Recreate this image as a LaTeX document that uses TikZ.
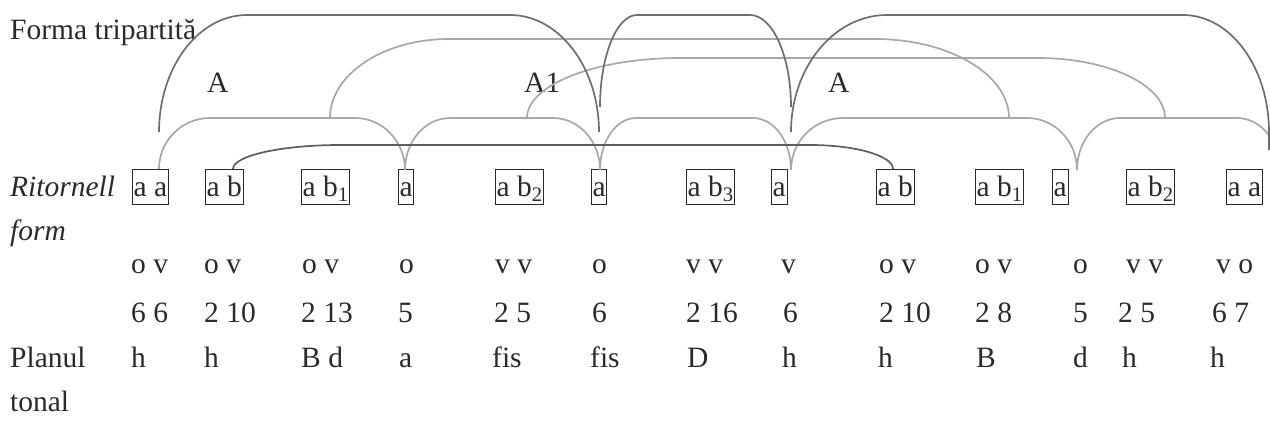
\documentclass[tikz,border=0pt]{standalone}
\usepackage{fontspec}
\setmainfont{Liberation Serif}
\definecolor{darkarc}{HTML}{6E6E6E}
\definecolor{lightarc}{HTML}{A8A8A8}
\definecolor{longarc}{HTML}{5E5E5E}
\definecolor{txt}{HTML}{2A2A2A}
\begin{document}
\begin{tikzpicture}[x=1pt,y=-1pt,
  every node/.style={font=\fontsize{29.5}{35}\selectfont, text=txt, inner sep=0pt, anchor=base west},
  seg/.style={draw=txt, line width=1pt, inner xsep=1.2pt, inner ysep=0pt, text height=27pt, text depth=8pt},
  darkline/.style={draw=darkarc, line width=1.7pt},
  lightline/.style={draw=lightarc, line width=1.7pt},
  longline/.style={draw=longarc, line width=1.7pt}]
\useasboundingbox (0,0) rectangle (1270,434);

% titles and labels
\node (title) at (10,39.5) {Forma tripartită};
\node (lA) at (207,92) {A};
\node (lA1) at (524,92) {A1};
\node (lA2) at (828,92) {A};

% Ritornell row
\node (rit) at (10,196) {\itshape Ritornell};
\node (form) at (10,240) {\itshape form};
\node[seg] (s1) at (132,196) {a a};
\node[seg] (s2) at (205,196) {a b};
\node[seg] (s3) at (301,196) {a b\textsubscript{1}};
\node[seg] (s4) at (398,196) {a};
\node[seg] (s5) at (495,196) {a b\textsubscript{2}};
\node[seg] (s6) at (591,196) {a};
\node[seg] (s7) at (686,196) {a b\textsubscript{3}};
\node[seg] (s8) at (771,196) {a};
\node[seg] (s9) at (876,196) {a b};
\node[seg] (s10) at (975,196) {a b\textsubscript{1}};
\node[seg] (s11) at (1052,196) {a};
\node[seg] (s12) at (1126,196) {a b\textsubscript{2}};
\node[seg] (s13) at (1226,196) {a a};

% o v row
\node (o1) at (131,273.5) {o v};
\node (o2) at (204,273.5) {o v};
\node (o3) at (302,273.5) {o v};
\node (o4) at (399,273.5) {o};
\node (o5) at (495,273.5) {v v};
\node (o6) at (592,273.5) {o};
\node (o7) at (686,273.5) {v v};
\node (o8) at (781,273.5) {v};
\node (o9) at (879,273.5) {o v};
\node (o10) at (975,273.5) {o v};
\node (o11) at (1073,273.5) {o};
\node (o12) at (1126,273.5) {v v};
\node (o13) at (1216,273.5) {v o};

% numbers row
\node (n1) at (131,322) {6 6};
\node (n2) at (204,322) {2 10};
\node (n3) at (301,322) {2 13};
\node (n4) at (398,322) {5};
\node (n5) at (494,322) {2 5};
\node (n6) at (592,322) {6};
\node (n7) at (686,322) {2 16};
\node (n8) at (783,322) {6};
\node (n9) at (879,322) {2 10};
\node (n10) at (975,322) {2 8};
\node (n11) at (1073,322) {5};
\node (n12) at (1118,322) {2 5};
\node (n13) at (1212,322) {6 7};

% tonal plan row
\node (pl) at (10,367) {Planul};
\node (tn) at (10,411) {tonal};
\node (t1) at (131,367) {h};
\node (t2) at (204,367) {h};
\node (t3) at (301,367) {B d};
\node (t4) at (399,367) {a};
\node (t5) at (492,367) {fis};
\node (t6) at (590,367) {fis};
\node (t7) at (687,367) {D};
\node (t8) at (782,367) {h};
\node (t9) at (878,367) {h};
\node (t10) at (976,367) {B};
\node (t11) at (1073,367) {d};
\node (t12) at (1122,367) {h};
\node (t13) at (1210,367) {h};

% connection points
\coordinate (c1) at (159,169);
\coordinate (c4) at (405,170);
\coordinate (c6) at (600,170);
\coordinate (c8) at (791,170);
\coordinate (c11) at (1077,170);
\coordinate (c13) at (1280,170);
\coordinate (pa) at (330,118);
\coordinate (pb) at (527,118);
\coordinate (pd) at (1009,118);
\coordinate (pe) at (1165,118);
\coordinate (d1s) at (159,132);
\coordinate (d1e) at (599,132);
\coordinate (d2s) at (600,107);
\coordinate (d2e) at (791,107);
\coordinate (d3s) at (791,132);
\coordinate (d3e) at (1269,150);
\coordinate (ls) at (233,169);
\coordinate (le) at (893,169);

\begin{scope}
\clip (0,0) rectangle (1270,434);
% level 1 light arches
\path[lightline] (c1) .. controls (159,140.8) and (181.8,118) .. (210,118) -- (355,118)
  .. controls (382.6,118) and (405,141.3) .. (c4);
\path[lightline] (c4) .. controls (405,141.3) and (425.2,118) .. (450,118) -- (553,118)
  .. controls (579,118) and (600,141.3) .. (c6);
\path[lightline] (c6) .. controls (600,141.3) and (616.1,118) .. (636,118) -- (753,118)
  .. controls (774,118) and (791,141.3) .. (c8);
\path[lightline] (c8) .. controls (791,141.3) and (814.3,118) .. (843,118) -- (1027,118)
  .. controls (1054.6,118) and (1077,141.3) .. (c11);
\path[lightline] (c11) .. controls (1077,141.3) and (1096.3,118) .. (1120,118) -- (1237,118)
  .. controls (1260.7,118) and (1280,141.3) .. (c13);
% level 2 light arches
\path[lightline] (pa) .. controls (330,74.4) and (383.3,39) .. (449,39) -- (875,39)
  .. controls (949,39) and (1009,74.4) .. (pd);
\path[lightline] (pb) .. controls (527,84.9) and (595.5,58) .. (680,58) -- (1038,58)
  .. controls (1108.1,58) and (1165,84.9) .. (pe);
% long dark line
\path[longline] (ls) .. controls (233,155.8) and (281,145) .. (340,145) -- (810,145)
  .. controls (855.8,145) and (893,155.8) .. (le);
% dark arches
\path[darkline] (d1s) .. controls (159,67.4) and (198.4,15) .. (247,15) -- (510,15)
  .. controls (559.1,15) and (599,67.4) .. (d1e);
\path[darkline] (d2s) .. controls (600,56.2) and (616.6,15) .. (637,15) -- (750,15)
  .. controls (772.6,15) and (791,56.2) .. (d2e);
\path[darkline] (d3s) .. controls (791,67.4) and (834,15) .. (887,15) -- (1183,15)
  .. controls (1230.5,15) and (1269,67.4) .. (1269,132) -- (d3e);
\end{scope}
\end{tikzpicture}
\end{document}
